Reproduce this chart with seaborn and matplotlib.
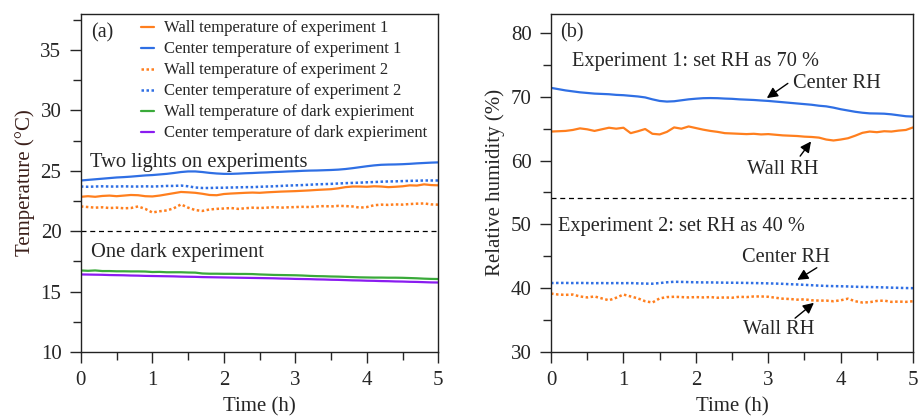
import matplotlib
matplotlib.use("Agg")
import matplotlib.pyplot as plt
from matplotlib.ticker import MultipleLocator
import seaborn as sns
import pandas as pd
import numpy as np

# time grid (h), one reading every 0.1 h
time_h = np.round(np.arange(0, 5.01, 0.1), 1)

# panel (a): temperatures (degC)
temp_wall_1 = [22.85, 22.90, 22.85, 22.92, 22.95, 22.90, 22.95, 23.00, 22.98, 22.90,
               22.88, 22.95, 23.05, 23.15, 23.25, 23.22, 23.18, 23.10, 23.00, 22.98,
               23.08, 23.12, 23.15, 23.18, 23.20, 23.18, 23.22, 23.25, 23.28, 23.30,
               23.32, 23.35, 23.38, 23.42, 23.45, 23.48, 23.55, 23.65, 23.70, 23.70,
               23.68, 23.72, 23.70, 23.65, 23.68, 23.72, 23.80, 23.78, 23.88, 23.82,
               23.80]
temp_center_1 = [24.20, 24.25, 24.30, 24.35, 24.40, 24.45, 24.48, 24.52, 24.57, 24.62,
                 24.65, 24.70, 24.75, 24.82, 24.90, 24.95, 24.95, 24.90, 24.83, 24.78,
                 24.75, 24.75, 24.77, 24.80, 24.82, 24.85, 24.87, 24.90, 24.92, 24.95,
                 24.97, 25.00, 25.02, 25.03, 25.05, 25.07, 25.10, 25.15, 25.22, 25.30,
                 25.38, 25.45, 25.50, 25.52, 25.53, 25.55, 25.58, 25.62, 25.65, 25.68,
                 25.70]
temp_wall_2 = [22.05, 22.00, 21.95, 21.98, 21.92, 21.95, 21.90, 21.92, 22.05, 21.85,
               21.55, 21.65, 21.72, 21.90, 22.22, 21.95, 21.75, 21.68, 21.80, 21.85,
               21.88, 21.92, 21.85, 21.90, 21.95, 21.92, 21.95, 22.00, 21.95, 21.98,
               22.00, 22.02, 22.00, 22.05, 22.08, 22.05, 22.10, 22.08, 22.05, 21.95,
               22.00, 22.15, 22.20, 22.18, 22.22, 22.20, 22.25, 22.28, 22.30, 22.22,
               22.20]
temp_center_2 = [23.70, 23.68, 23.70, 23.72, 23.70, 23.70, 23.72, 23.70, 23.70, 23.72,
                 23.70, 23.72, 23.75, 23.75, 23.78, 23.72, 23.62, 23.58, 23.58, 23.60,
                 23.60, 23.62, 23.63, 23.65, 23.65, 23.68, 23.70, 23.72, 23.75, 23.78,
                 23.80, 23.82, 23.85, 23.88, 23.90, 23.92, 23.95, 23.98, 24.00, 24.02,
                 24.05, 24.07, 24.10, 24.12, 24.13, 24.15, 24.17, 24.18, 24.20, 24.20,
                 24.20]
temp_wall_dark = [16.75, 16.72, 16.75, 16.70, 16.70, 16.68, 16.68, 16.67, 16.67, 16.66,
                  16.62, 16.63, 16.60, 16.60, 16.60, 16.58, 16.57, 16.50, 16.48, 16.48,
                  16.47, 16.47, 16.46, 16.46, 16.45, 16.42, 16.40, 16.38, 16.37, 16.36,
                  16.35, 16.33, 16.30, 16.28, 16.27, 16.25, 16.24, 16.22, 16.20, 16.18,
                  16.17, 16.16, 16.16, 16.15, 16.15, 16.14, 16.12, 16.10, 16.07, 16.05,
                  16.04]
temp_center_dark = [16.42, 16.41, 16.40, 16.39, 16.37, 16.36, 16.35, 16.33, 16.32, 16.30,
                    16.29, 16.28, 16.27, 16.26, 16.24, 16.23, 16.22, 16.20, 16.19, 16.18,
                    16.17, 16.16, 16.15, 16.14, 16.13, 16.12, 16.11, 16.10, 16.08, 16.07,
                    16.05, 16.04, 16.03, 16.01, 16.00, 15.98, 15.97, 15.95, 15.93, 15.92,
                    15.90, 15.89, 15.87, 15.86, 15.84, 15.83, 15.81, 15.80, 15.78, 15.76,
                    15.75]

# panel (b): relative humidity (%)
rh_center_1 = [71.40, 71.20, 71.00, 70.85, 70.70, 70.60, 70.50, 70.45, 70.40, 70.30,
               70.25, 70.15, 70.05, 69.90, 69.60, 69.35, 69.25, 69.30, 69.45, 69.60,
               69.70, 69.78, 69.80, 69.78, 69.72, 69.68, 69.60, 69.55, 69.50, 69.42,
               69.35, 69.25, 69.15, 69.05, 68.95, 68.85, 68.75, 68.60, 68.50, 68.30,
               68.05, 67.85, 67.65, 67.50, 67.40, 67.38, 67.35, 67.25, 67.10, 66.95,
               66.90]
rh_wall_1 = [64.55, 64.60, 64.65, 64.80, 65.05, 64.90, 64.65, 64.90, 65.15, 65.00,
             65.15, 64.30, 64.60, 64.95, 64.20, 64.10, 64.50, 65.20, 65.00, 65.35,
             65.10, 64.85, 64.65, 64.50, 64.30, 64.25, 64.20, 64.15, 64.20, 64.10,
             64.15, 64.05, 63.95, 63.90, 63.85, 63.75, 63.70, 63.60, 63.30, 63.15,
             63.30, 63.50, 63.90, 64.35, 64.55, 64.45, 64.60, 64.55, 64.70, 64.80,
             65.20]
rh_center_2 = [40.80, 40.82, 40.82, 40.80, 40.82, 40.80, 40.78, 40.80, 40.78, 40.80,
               40.78, 40.80, 40.75, 40.72, 40.70, 40.80, 40.92, 41.00, 40.98, 40.95,
               40.92, 40.90, 40.90, 40.88, 40.86, 40.85, 40.84, 40.82, 40.80, 40.78,
               40.75, 40.72, 40.68, 40.62, 40.58, 40.52, 40.46, 40.40, 40.35, 40.32,
               40.30, 40.27, 40.22, 40.20, 40.18, 40.15, 40.12, 40.08, 40.05, 40.02,
               40.00]
rh_wall_2 = [39.15, 39.00, 38.95, 39.00, 38.70, 38.55, 38.70, 38.40, 38.10, 38.50,
             39.00, 38.70, 38.40, 37.95, 37.75, 38.40, 38.60, 38.65, 38.60, 38.55,
             38.60, 38.55, 38.60, 38.50, 38.55, 38.50, 38.65, 38.60, 38.70, 38.70,
             38.65, 38.50, 38.35, 38.30, 38.20, 38.25, 38.10, 38.05, 38.05, 37.95,
             38.10, 38.35, 37.95, 37.75, 37.80, 38.00, 38.05, 37.85, 37.90, 37.85,
             37.95]

legend_labels = ["Wall temperature of experiment 1", "Center temperature of experiment 1",
                 "Wall temperature of experiment 2", "Center temperature of experiment 2",
                 "Wall temperature of dark expieriment", "Center temperature of dark expieriment"]

orange = "#ff7f1e"
blue = "#2f6fe4"
green = "#3aaa3a"
purple = "#8a1cf0"
dotted = (0, (1, 1))

sns.set_theme(style="ticks")
plt.rcParams["font.family"] = ["Liberation Serif", "DejaVu Serif"]

fig = plt.figure(figsize=(9.19, 4.2), dpi=100)
ax1 = fig.add_axes([0.088, 0.162, 0.389, 0.805])
ax2 = fig.add_axes([0.5996, 0.162, 0.394, 0.805])

# (a) temperature
series_a = [(temp_wall_1, orange, "-"), (temp_center_1, blue, "-"),
            (temp_wall_2, orange, dotted), (temp_center_2, blue, dotted),
            (temp_wall_dark, green, "-"), (temp_center_dark, purple, "-")]
for (vals, col, ls), lab in zip(series_a, legend_labels):
    sns.lineplot(x=time_h, y=vals, ax=ax1, color=col, linestyle=ls,
                 linewidth=1.6 if ls == "-" else 1.8, label=lab)
ax1.axhline(20, color="black", linestyle="--", linewidth=0.9, dashes=(4, 3))

ax1.set_xlim(0, 5)
ax1.set_ylim(10, 38)
ax1.yaxis.set_major_locator(MultipleLocator(5))
ax1.yaxis.set_minor_locator(MultipleLocator(2.5))
ax1.set_ylabel("Temperature (°C)", fontsize=15, color="#3b1f1a")
ax1.text(0.13, 25.7, "Two lights on experiments", fontsize=14.8, va="center")
ax1.text(0.14, 18.2, "One dark experiment", fontsize=14.8, va="center")
ax1.text(0.15, 36.4, "(a)", fontsize=14.5, va="center")
ax1.legend(loc="upper left", bbox_to_anchor=(0.14, 1.01), frameon=False,
           fontsize=12, handlelength=0.8, handletextpad=0.6, labelspacing=0.3,
           borderaxespad=0.2)

# (b) relative humidity
series_b = [(rh_center_1, blue, "-"), (rh_wall_1, orange, "-"),
            (rh_center_2, blue, dotted), (rh_wall_2, orange, dotted)]
for vals, col, ls in series_b:
    sns.lineplot(x=time_h, y=vals, ax=ax2, color=col, linestyle=ls,
                 linewidth=1.6 if ls == "-" else 1.8)
ax2.axhline(54.2, color="black", linestyle="--", linewidth=0.9, dashes=(4, 3))

ax2.set_xlim(0, 5)
ax2.set_ylim(30, 83)
ax2.yaxis.set_major_locator(MultipleLocator(10))
ax2.yaxis.set_minor_locator(MultipleLocator(5))
ax2.set_ylabel("Relative humidity (%)", fontsize=15)
ax2.text(0.12, 80, "(b)", fontsize=14.5, va="center")
ax2.text(0.29, 75.6, "Experiment 1: set RH as 70 %", fontsize=14.7, va="center")
ax2.text(0.10, 49.7, "Experiment 2: set RH as 40 %", fontsize=14.7, va="center")

arrow = dict(arrowstyle="-|>", color="black", lw=1.0, mutation_scale=16,
             shrinkA=0, shrinkB=0)
ax2.annotate("", xy=(2.98, 69.8), xytext=(3.27, 72.1), arrowprops=arrow)
ax2.text(3.34, 72.1, "Center RH", fontsize=14.7, va="center")
ax2.annotate("", xy=(3.59, 63.0), xytext=(3.44, 60.7), arrowprops=arrow)
ax2.text(2.71, 58.6, "Wall RH", fontsize=14.7, va="center")
ax2.annotate("", xy=(3.40, 41.3), xytext=(3.67, 43.2), arrowprops=arrow)
ax2.text(2.64, 44.8, "Center RH", fontsize=14.7, va="center")
ax2.annotate("", xy=(3.63, 37.7), xytext=(3.37, 35.3), arrowprops=arrow)
ax2.text(2.65, 33.5, "Wall RH", fontsize=14.7, va="center")

for ax in (ax1, ax2):
    ax.xaxis.set_major_locator(MultipleLocator(1))
    ax.xaxis.set_minor_locator(MultipleLocator(0.5))
    ax.set_xlabel("Time (h)", fontsize=15, labelpad=5)
    ax.tick_params(which="major", direction="out", length=8, width=1, labelsize=15,
                   top=False, right=False, pad=6)
    ax.tick_params(which="minor", direction="out", length=6, width=1,
                   top=False, right=False)
    for sp in ax.spines.values():
        sp.set_visible(True)
        sp.set_color("#222222")
        sp.set_linewidth(1.0)

fig.savefig("out.png", dpi=100)
